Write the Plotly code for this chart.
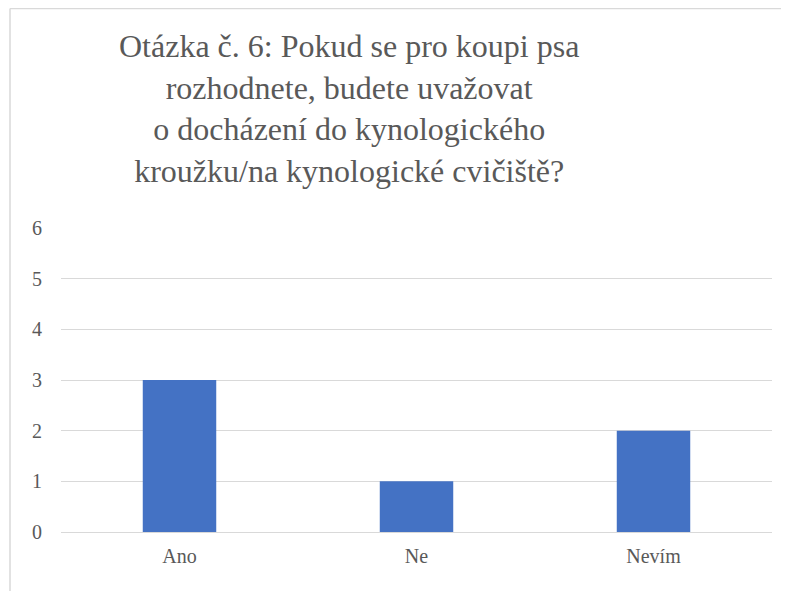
import plotly.graph_objects as go

# data
categories = ["Ano", "Ne", "Nevím"]
counts = [3, 1, 2]
y_ticks = [0, 1, 2, 3, 4, 5, 6]

title_text = ("Otázka č. 6: Pokud se pro koupi psa<br>rozhodnete, budete uvažovat"
              "<br>o docházení do kynologického<br>kroužku/na kynologické cvičiště?")

# the page body adds an 8px offset, so figure coords = screen coords - 8
W, H = 789, 591
L, R, T, B = 53, 25, 220, 67
pw, ph = W - L - R, H - T - B

serif = "Liberation Serif"
gray = "#595959"
grid = "#d9d9d9"

fig = go.Figure()
fig.add_trace(
    go.Bar(
        x=categories,
        y=counts,
        marker={"color": "#4472C4", "line": {"width": 0}},
        showlegend=False,
    )
)

fig.update_layout(
    width=W,
    height=H,
    margin={"l": L, "r": R, "t": T, "b": B},
    paper_bgcolor="white",
    plot_bgcolor="white",
    bargap=0.69,
    font={"family": serif, "color": gray, "size": 20},
    xaxis={
        "showgrid": False,
        "showline": False,
        "zeroline": False,
        "ticks": "",
        "ticklabelstandoff": 10,
        "tickfont": {"size": 20, "family": serif, "color": gray},
    },
    yaxis={
        "range": [0, 6],
        "tickvals": y_ticks,
        "showgrid": True,
        "gridcolor": grid,
        "gridwidth": 1,
        "zeroline": True,
        "zerolinecolor": grid,
        "zerolinewidth": 1,
        "showline": False,
        "ticks": "",
        "ticklabelstandoff": 18,
        "tickfont": {"size": 20, "family": serif, "color": gray},
    },
)

# title, centred the way the original sits
fig.add_annotation(
    text=title_text,
    xref="paper", yref="paper",
    x=(341 - L) / pw, y=1 + (T - 18) / ph,
    xanchor="center", yanchor="top",
    showarrow=False,
    align="center",
    font={"size": 32, "color": gray, "family": serif},
)

# chart frame (left and top edges visible)
x0 = (2 - L) / pw
y_top = 1 + (T - 0.5) / ph
y_bot = -(B + 5) / ph
fig.add_shape(type="line", xref="paper", yref="paper",
              x0=x0, x1=x0, y0=y_bot, y1=y_top,
              line={"color": grid, "width": 1.5})
fig.add_shape(type="line", xref="paper", yref="paper",
              x0=x0, x1=1 + (R + 5) / pw, y0=y_top, y1=y_top,
              line={"color": grid, "width": 1.5})

fig.write_html("out.html")
